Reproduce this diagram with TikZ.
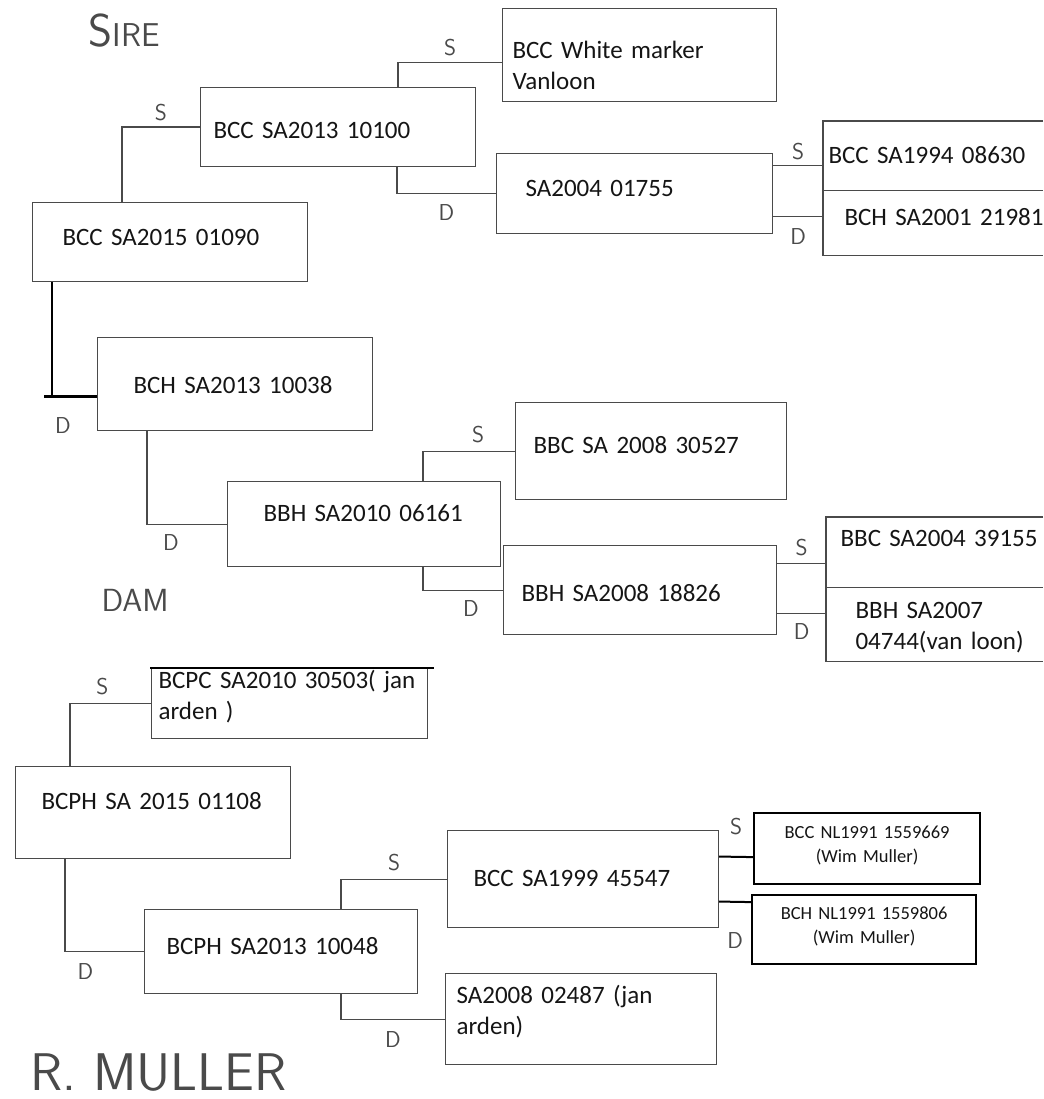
\documentclass[tikz,border=0pt]{standalone}
\usepackage{fontspec}
\setmainfont{Carlito}[WordSpace=0.6]
\definecolor{pencil}{HTML}{4A4A4A}
\definecolor{ink}{HTML}{151515}
\begin{document}
\begin{tikzpicture}[x=1pt, y=-1pt,
  box/.style={draw=pencil, line width=1.1pt, anchor=north west, align=left, inner ysep=0pt, text=ink, text depth=0pt, font=\fontsize{25}{31}\selectfont},
  openbox/.style={box, draw=none},
  link/.style={draw=pencil, line width=1.1pt},
  digital/.style={draw=black, line width=2.4pt},
  wim/.style={draw=black, line width=2.2pt, anchor=north west, align=center, inner sep=0pt, text=ink, text height=0pt, text depth=21pt, font=\fontsize{18.5}{24}\selectfont},
  hand/.style={text=pencil, font=\sffamily\fontsize{23}{23}\selectfont, inner sep=2pt}]
\useasboundingbox (0,0) rectangle (1043,1099);
\coordinate (rim) at (1043,0);

\node[text=pencil, anchor=base west, font=\sffamily\fontsize{33}{33}\selectfont] (sire) at (85,47) {{\fontsize{46}{46}\selectfont S}IRE};
\node[text=pencil, anchor=base west, font=\sffamily\fontsize{32}{32}\selectfont] (dam) at (98,611) {DAM};
\node[text=pencil, anchor=base west, font=\sffamily\fontsize{53}{53}\selectfont] (breeder) at (27,1090) {R. MULLER};

\node[box, text width=215pt, inner xsep=30pt, minimum height=79pt, text height=7pt] (n01090) at (32,202) {BCC SA2015 01090};
\node[box, text width=249pt, inner xsep=13pt, minimum height=79pt, text height=23pt] (n10100) at (200,87) {BCC SA2013 10100};
\node[box, text width=254pt, inner xsep=10pt, minimum height=93pt, text height=7pt] (white) at (502,8) {BCC White marker\\Vanloon};
\node[box, text width=218pt, inner xsep=29pt, minimum height=80pt, text height=6pt] (n01755) at (496,153) {SA2004 01755};
\node[openbox, text width=230pt, inner xsep=5pt, minimum height=68pt, text height=16pt] (n08630) at (823,121) {BCC SA1994 08630};
\node[openbox, text width=210pt, inner xsep=21pt, minimum height=65pt, text height=7pt] (n21981) at (823,189) {BCH SA2001 21981};

\node[box, text width=203pt, inner xsep=36pt, minimum height=93pt, text height=19pt] (n10038) at (97,337) {BCH SA2013 10038};
\node[box, text width=201pt, inner xsep=36pt, minimum height=85pt, text height=0pt, text depth=5pt] (n06161) at (227,481) {BBH SA2010 06161};
\node[box, text width=235pt, inner xsep=18pt, minimum height=97pt, text height=5pt] (n30527) at (515,402) {BBC SA 2008 30527};
\node[box, text width=237pt, inner xsep=18pt, minimum height=89pt, text height=23pt] (n18826) at (503,545) {BBH SA2008 18826};
\node[openbox, text width=210pt, inner xsep=14pt, minimum height=69pt, text height=0pt, text depth=11pt] (n39155) at (826,517) {BBC SA2004 39155};
\node[openbox, text width=200pt, inner xsep=29pt, minimum height=74pt, text height=0pt, text depth=10pt] (n04744) at (826,586) {BBH SA2007\\04744(van loon)};

\node[box, text width=262pt, inner xsep=7pt, minimum height=70pt, text height=0pt, text depth=30pt] (n30503) at (151,668) {BCPC SA2010 30503( jan\\arden )};
\node[box, text width=223pt, inner xsep=26pt, minimum height=92pt, text height=0pt, text depth=6pt] (n01108) at (15,766) {BCPH SA 2015 01108};
\node[box, text width=229pt, inner xsep=22pt, minimum height=84pt, text height=6pt] (n10048) at (144,909) {BCPH SA2013 10048};
\node[box, text width=219pt, inner xsep=26pt, minimum height=97pt, text height=15pt] (n45547) at (447,830) {BCC SA1999 45547};
\node[box, text width=249pt, inner xsep=11pt, minimum height=91pt, text height=0pt, text depth=31pt] (n02487) at (445,973) {SA2008 02487 (jan\\arden)};
\node[wim, text width=206pt, inner xsep=10pt, minimum height=71pt] (n59669) at (753,812) {BCC NL1991 1559669\\(Wim Muller)};
\node[wim, text width=204pt, inner xsep=10pt, minimum height=69pt] (n59806) at (751,894) {BCH NL1991 1559806\\(Wim Muller)};

\draw[link] (n08630.north west -| rim) -- (n08630.north west) -- (n21981.south west) -- (n21981.south west -| rim);
\draw[link] (n08630.south west) -- (n08630.south west -| rim);
\draw[link] (n39155.north west -| rim) -- (n39155.north west) -- (n04744.south west) -- (n04744.south west -| rim);
\draw[link] (n39155.south west) -- (n39155.south west -| rim);
\draw[digital, line width=2pt] ([xshift=-1pt]n30503.north west) -- ([xshift=6pt]n30503.north east);

\draw[link] ([xshift=90pt]n01090.north west) |- node[hand, pos=0.75, above=4pt] (s1) {S} (n10100.west);
\draw[link] ([xshift=198pt]n10100.north west) |- node[hand, pos=0.75, above=4pt] (s2) {S} ([yshift=-7.5pt]white.west);
\draw[link] ([xshift=197pt]n10100.south west) |- node[hand, pos=0.75, below=8pt] (d2) {D} (n01755.west);
\draw[link] ([yshift=28pt]n01755.east) -- node[hand, above=3pt] (s3) {S} ([yshift=-10pt]n08630.west);
\draw[link] ([yshift=-23pt]n01755.east) -- node[hand, below=9pt] (d3) {D} ([yshift=5.5pt]n21981.west);

\draw[digital] ([xshift=20pt]n01090.south west) |- node[hand, pos=0.62, below=18pt] (d1) {D} ([yshift=-12.5pt]n10038.west);
\draw[digital] ([xshift=-53pt, yshift=-12.5pt]n10038.west) -- ([xshift=-44pt, yshift=-12.5pt]n10038.west);
\draw[link] ([xshift=50pt]n10038.south west) |- node[hand, pos=0.65, below=8pt] (d4) {D} (n06161.west);
\draw[link] ([xshift=196pt]n06161.north west) |- node[hand, pos=0.8, above=6pt] (s5) {S} (n30527.west);
\draw[link] ([xshift=196pt]n06161.south west) |- node[hand, pos=0.8, below=8pt] (d5) {D} (n18826.west);
\draw[link] ([yshift=26.5pt]n18826.east) -- node[hand, above=5pt] (s6) {S} ([yshift=-11.5pt]n39155.west);
\draw[link] ([yshift=-23.5pt]n18826.east) -- node[hand, below=7pt] (d6) {D} ([yshift=10pt]n04744.west);

\draw[link] ([xshift=55pt]n01108.north west) |- node[hand, pos=0.7, above=6pt] (s7) {S} (n30503.west);
\draw[link] ([xshift=50pt]n01108.south west) |- node[hand, pos=0.63, below=9pt] (d7) {D} (n10048.west);
\draw[link] ([xshift=197pt]n10048.north west) |- node[hand, pos=0.75, above=6pt] (s8) {S} (n45547.west);
\draw[link] ([xshift=197pt]n10048.south west) |- node[hand, pos=0.75, below=10pt] (d8) {D} (n02487.west);
\draw[digital, line width=2pt] ([yshift=22.5pt]n45547.east) -- node[hand, above=19pt] (s9) {S} ([yshift=-8.5pt]n59669.west);
\draw[digital, line width=2pt] ([yshift=-22.5pt]n45547.east) -- node[hand, below=28pt] (d9) {D} ([yshift=27.5pt]n59806.west);
\end{tikzpicture}
\end{document}
